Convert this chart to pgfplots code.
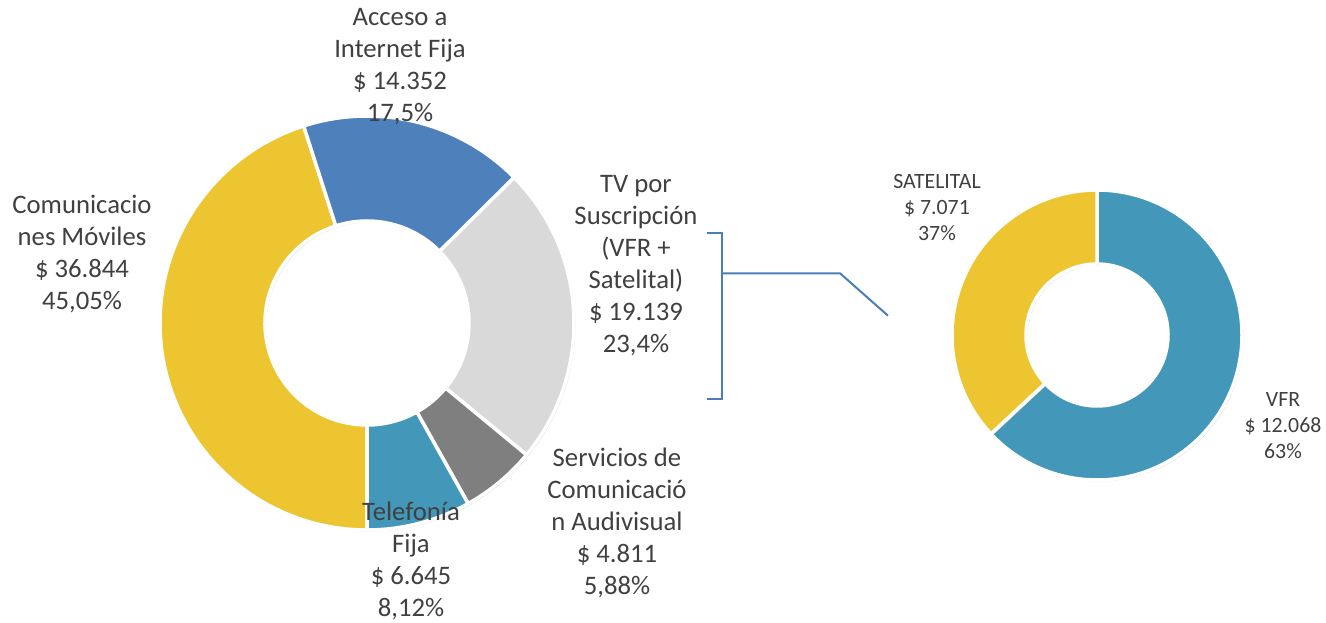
\documentclass[border=0pt]{standalone}
\usepackage{fontspec}
\setmainfont{Carlito}
\usepackage{pgfplots}
\usepackage{pgfplotstable}
\pgfplotsset{compat=1.18}
\usetikzlibrary{calc}

\definecolor{cYel}{HTML}{ECC530}
\definecolor{cBlue}{HTML}{4E80BB}
\definecolor{cLGray}{HTML}{D9D9D9}
\definecolor{cDGray}{HTML}{7F7F7F}
\definecolor{cTeal}{HTML}{4398B9}
\definecolor{cTxt}{HTML}{404040}
\definecolor{cLine}{HTML}{4A7EBB}

% values in thousands (labels read $ 36.844 etc.)
\pgfplotstableread{
name value
moviles 36.844
internet 14.352
tv 19.139
audiovisual 4.811
telefonia 6.645
}\mainsplit
\pgfplotstableread{
name value
vfr 12.068
satelital 7.071
}\tvsplit

% one donut ring piece: cx cy rin rout a1 a2 colour
\newcommand\slice[7]{%
  \fill[black!16] ($(axis cs:#1,#2)+(#5:#4pt)+(1.5pt,-1.5pt)$) arc[start angle=#5,end angle=#6,radius=#4pt]
    -- ($(axis cs:#1,#2)+(#6:#3pt)+(1.5pt,-1.5pt)$) arc[start angle=#6,end angle=#5,radius=#3pt] -- cycle;
  \filldraw[fill=#7,draw=white,line width=3.5pt,line join=round] ($(axis cs:#1,#2)+(#5:#4pt)$) arc[start angle=#5,end angle=#6,radius=#4pt]
    -- ($(axis cs:#1,#2)+(#6:#3pt)$) arc[start angle=#6,end angle=#5,radius=#3pt] -- cycle;}

\begin{document}
\begin{tikzpicture}[
  lbl/.style={font=\fontsize{26.7}{32}\selectfont, text=cTxt, align=center, inner sep=0pt},
  sml/.style={font=\fontsize{21.8}{26}\selectfont, text=cTxt, align=center, inner sep=0pt},
]
\pgfplotstablegetelem{0}{value}\of\mainsplit \edef\vA{\pgfplotsretval}
\pgfplotstablegetelem{1}{value}\of\mainsplit \edef\vB{\pgfplotsretval}
\pgfplotstablegetelem{2}{value}\of\mainsplit \edef\vC{\pgfplotsretval}
\pgfplotstablegetelem{3}{value}\of\mainsplit \edef\vD{\pgfplotsretval}
\pgfplotstablegetelem{4}{value}\of\mainsplit \edef\vE{\pgfplotsretval}
\pgfplotstablegetelem{0}{value}\of\tvsplit \edef\wA{\pgfplotsretval}
\pgfplotstablegetelem{1}{value}\of\tvsplit \edef\wB{\pgfplotsretval}
\pgfmathsetmacro\totM{\vA+\vB+\vC+\vD+\vE}
\pgfmathsetmacro\totT{\wA+\wB}
% clockwise from the bottom for the main ring
\pgfmathsetmacro\aA{-90}
\pgfmathsetmacro\aB{\aA-360*(\vA/\totM)}
\pgfmathsetmacro\aC{\aB-360*(\vB/\totM)}
\pgfmathsetmacro\aD{\aC-360*(\vC/\totM)}
\pgfmathsetmacro\aE{\aD-360*(\vD/\totM)}
\pgfmathsetmacro\aF{\aE-360*(\vE/\totM)}
% clockwise from the top for the TV ring
\pgfmathsetmacro\bA{90}
\pgfmathsetmacro\bB{\bA-360*(\wA/\totT)}
\pgfmathsetmacro\bC{\bB-360*(\wB/\totT)}
\begin{axis}[
  name=ax, hide axis, x=1pt, y=1pt,
  xmin=0, xmax=1326, ymin=0, ymax=623,
  clip=false,
]
\slice{367}{300}{102}{207}{\aA}{\aB}{cYel}
\slice{367}{300}{102}{207}{\aB}{\aC}{cBlue}
\slice{367}{300}{102}{207}{\aC}{\aD}{cLGray}
\slice{367}{300}{102}{207}{\aD}{\aE}{cDGray}
\slice{367}{300}{102}{207}{\aE}{\aF}{cTeal}

\slice{1097}{288}{71}{145}{\bA}{\bB}{cTeal}
\slice{1097}{288}{71}{145}{\bB}{\bC}{cYel}

\draw[cLine, line width=2pt] (axis cs:707,390.3) -- (axis cs:722,390.3) -- (axis cs:722,224) -- (axis cs:707,224);
\draw[cLine, line width=2pt] (axis cs:722,349.7) -- (axis cs:840,349.7) -- (axis cs:888,307.3);

\node[lbl] at (axis cs:400,556) {Acceso a\\Internet Fija\\\$ 14.352\\17,5\%};
\node[lbl] at (axis cs:82,369) {Comunicacio\\nes Móviles\\\$ 36.844\\45,05\%};
\node[lbl] at (axis cs:636,357) {TV por\\Suscripción\\(VFR +\\Satelital)\\\$ 19.139\\23,4\%};
\node[lbl] at (axis cs:617,100) {Servicios de\\Comunicació\\n Audivisual\\\$ 4.811\\5,88\%};
\node[lbl] at (axis cs:411,62) {Telefonía\\Fija\\\$ 6.645\\8,12\%};
\node[sml] at (axis cs:937,415) {SATELITAL\\\$ 7.071\\37\%};
\node[sml] at (axis cs:1283,197) {VFR\\\$ 12.068\\63\%};
\end{axis}
\pgfresetboundingbox
\useasboundingbox (ax.south west) rectangle (ax.north east);
\end{tikzpicture}
\end{document}
